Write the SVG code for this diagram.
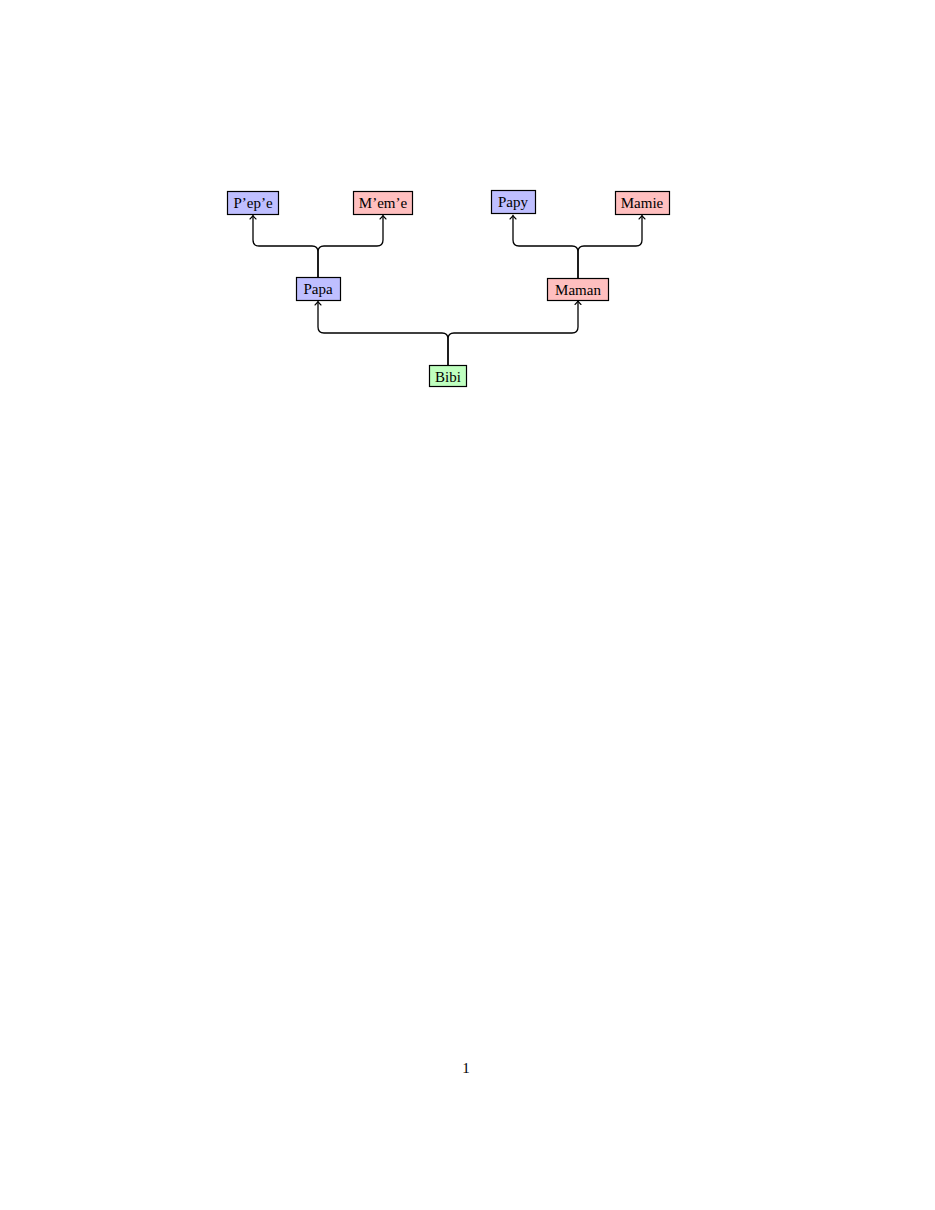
<svg xmlns="http://www.w3.org/2000/svg" width="935" height="1210" viewBox="0 0 935 1210">
<style>
.node rect{stroke:#000;stroke-width:1.2}
.blue{fill:#bfbfff}.red{fill:#ffbfbf}.green{fill:#bfffbf}
text{font-family:"Liberation Serif",serif;font-size:15px;fill:#000;text-anchor:middle}
.conn path{fill:none;stroke:#000;stroke-width:1.3}
</style>
<defs>
<marker id="arr" viewBox="-5 -5 10 10" markerWidth="10" markerHeight="10" refX="0" refY="0" orient="auto" markerUnits="userSpaceOnUse">
<path d="M-3.5,-3 Q-1,-0.5 0,0 Q-1,0.5 -3.5,3" fill="none" stroke="#000" stroke-width="1.1" stroke-linecap="round"/>
</marker>
</defs>
<rect width="935" height="1210" fill="#fff"/>
<g class="conn">
<path d="M318,277 V252 Q318,246 312,246 H259 Q253,246 253,240 V215.5" marker-end="url(#arr)"/>
<path d="M318,277 V252 Q318,246 324,246 H377 Q383,246 383,240 V215.5" marker-end="url(#arr)"/>
<path d="M578,278 V252 Q578,246 572,246 H519 Q513,246 513,240 V215.5" marker-end="url(#arr)"/>
<path d="M578,278 V252 Q578,246 584,246 H636 Q642,246 642,240 V215.5" marker-end="url(#arr)"/>
<path d="M448,365 V339 Q448,333 442,333 H324 Q318,333 318,327 V301.5" marker-end="url(#arr)"/>
<path d="M448,365 V339 Q448,333 454,333 H572 Q578,333 578,327 V301" marker-end="url(#arr)"/>
</g>
<g id="pepe" class="node"><rect class="blue" x="227.5" y="191.5" width="51" height="23"/><text x="253" y="208">P’ep’e</text></g>
<g id="meme" class="node"><rect class="red" x="353.5" y="191.5" width="59" height="23"/><text x="383" y="208">M’em’e</text></g>
<g id="papy" class="node"><rect class="blue" x="491.5" y="190.5" width="44" height="23"/><text x="513" y="207">Papy</text></g>
<g id="mamie" class="node"><rect class="red" x="615.5" y="191.5" width="54" height="23"/><text x="642" y="208">Mamie</text></g>
<g id="papa" class="node"><rect class="blue" x="296.5" y="277.5" width="44" height="23"/><text x="318" y="294">Papa</text></g>
<g id="maman" class="node"><rect class="red" x="547.5" y="278.5" width="61" height="22"/><text x="578" y="295">Maman</text></g>
<g id="bibi" class="node"><rect class="green" x="429.5" y="365.5" width="37" height="21"/><text x="448" y="382">Bibi</text></g>
<text x="466" y="1073">1</text>
</svg>
